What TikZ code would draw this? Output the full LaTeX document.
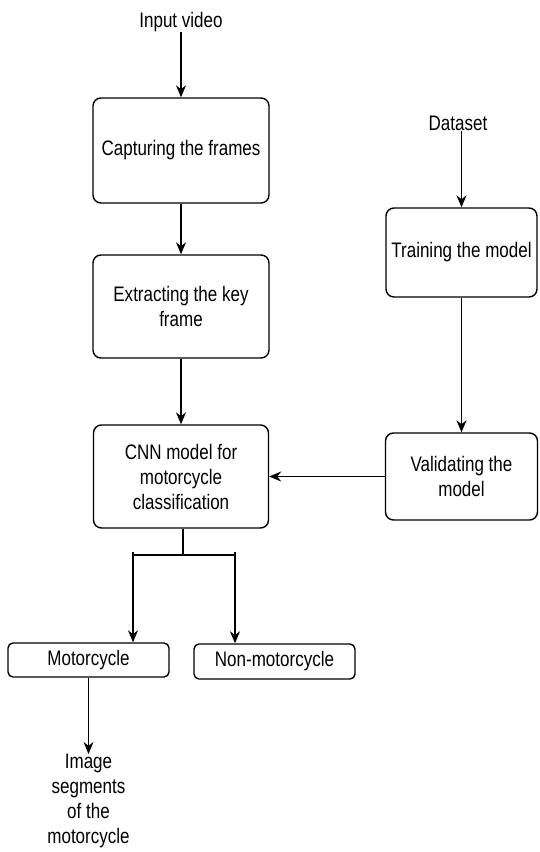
\documentclass[tikz,border=0pt]{standalone}
\usepackage{fontspec}
\setmainfont{Liberation Sans}[FakeStretch=0.81]
\usepackage{tikz}
\usetikzlibrary{arrows.meta,calc}

\tikzset{
	flowbox/.style={draw, line width=1.4pt, rounded corners=8pt, align=center,
		inner sep=0pt, font=\fontsize{21}{25}\selectfont},
	flowtext/.style={align=center, inner sep=0pt, font=\fontsize{21}{25}\selectfont},
	flowarrow/.style={line width=1.4pt, -{Stealth[length=12pt,width=10pt]}},
	flowline/.style={line width=1.4pt}
}

\begin{document}
\begin{tikzpicture}[x=1pt, y=1pt]
	\useasboundingbox (0,0) rectangle (539,-852);
	% left column
	\node[flowtext] (input) at (181,-22) {Input video};
	\node[flowbox, minimum width=176pt, minimum height=105pt] (capture) at (181,-150.5) {Capturing the frames};
	\node[flowbox, minimum width=176pt, minimum height=103pt] (extract) at (181,-306.5) {Extracting the key\\frame};
	\node[flowbox, minimum width=175pt, minimum height=103pt] (cnn) at (181,-476.5) {CNN model for\\motorcycle\\classification};
	% right column
	\node[flowtext] (dataset) at (458,-123) {Dataset};
	\node[flowbox, minimum width=151pt, minimum height=89pt] (train) at (461.5,-252.5) {Training the model};
	\node[flowbox, minimum width=152pt, minimum height=87pt] (valid) at (461.5,-476.5) {Validating the\\model};
	% outputs
	\node[flowbox, rounded corners=5pt, minimum width=161pt, minimum height=34pt] (motor) at (88.5,-660) {Motorcycle};
	\node[flowbox, rounded corners=5pt, minimum width=161pt, minimum height=35pt] (nonmotor) at (274.5,-661.5) {Non-motorcycle};
	\node[flowtext] (segments) at (88.5,-801) {Image\\segments\\of the\\motorcycle};

	\coordinate (split) at (183,-555);
	\coordinate (lbranch) at (133,-555);
	\coordinate (rbranch) at (235,-555);

	\draw[flowarrow] (input) -- (capture);
	\draw[flowarrow] (capture) -- (extract);
	\draw[flowarrow] (extract) -- (cnn);
	\draw[flowarrow] (dataset.south -| train) -- (train);
	\draw[flowarrow] (train) -- (valid);
	\draw[flowarrow] (valid) -- (cnn);
	\draw[flowline] (cnn.south -| split) -- (split);
	\draw[flowline] (lbranch) -- (rbranch);
	\draw[flowline] ($(lbranch)+(0,3)$) -- (lbranch);
	\draw[flowline] ($(rbranch)+(0,3)$) -- (rbranch);
	\draw[flowarrow] (lbranch) -- (lbranch |- motor.north);
	\draw[flowarrow] (rbranch) -- (rbranch |- nonmotor.north);
	\draw[flowarrow] (motor) -- (segments);
\end{tikzpicture}
\end{document}
